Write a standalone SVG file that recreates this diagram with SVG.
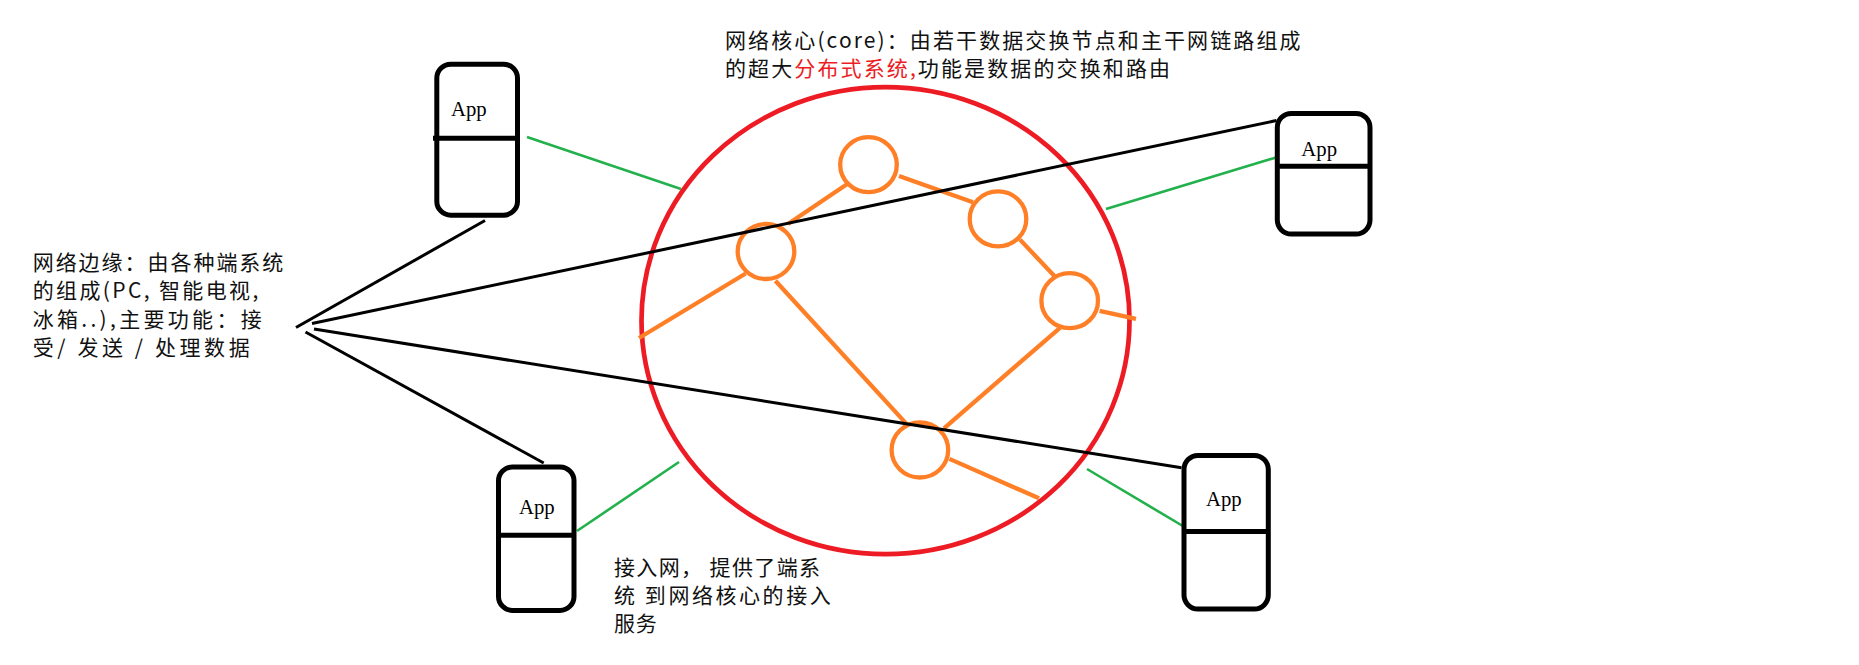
<svg xmlns="http://www.w3.org/2000/svg" width="1859" height="665" viewBox="0 0 1859 665">
<style>
.box{fill:none;stroke:#000;stroke-width:5;}
.div{stroke:#000;stroke-width:5;}
.app{font-family:"Liberation Serif",serif;font-size:21px;fill:#000;}
.txt{font-family:"Noto Sans CJK SC","Noto Sans",sans-serif;font-size:21px;fill:#111;}
.red{fill:#ED1C24;}
.blk{stroke:#000;stroke-width:3;fill:none;}
.grn{stroke:#22B14C;stroke-width:2.6;fill:none;}
.org{stroke:#FF7F27;stroke-width:4.3;fill:none;}
.core{fill:none;stroke:#ED1C24;stroke-width:4.7;}
</style>
<rect width="1859" height="665" fill="#fff"/>

<g id="connectors">
  <line class="grn" x1="527" y1="137" x2="681" y2="189"/>
  <line class="grn" x1="1106" y1="209" x2="1277.5" y2="157"/>
  <line class="grn" x1="577" y1="531" x2="679" y2="462"/>
  <line class="grn" x1="1087" y1="469" x2="1184.5" y2="527"/>
</g>

<g id="core">
  <ellipse class="core" cx="885.5" cy="320.6" rx="244" ry="233.5"/>
  <g id="core-links">
    <line class="org" x1="848" y1="183.5" x2="788" y2="224"/>
    <line class="org" x1="899" y1="176" x2="973" y2="202.3"/>
    <line class="org" x1="1020" y1="239.6" x2="1056" y2="277.8"/>
    <line class="org" x1="1099.6" y1="310.9" x2="1136" y2="318.9"/>
    <line class="org" x1="1060" y1="327.8" x2="944" y2="428.3"/>
    <line class="org" x1="745.7" y1="273.5" x2="639" y2="338"/>
    <line class="org" x1="775.4" y1="280.8" x2="906.7" y2="424.1"/>
    <line class="org" x1="949.4" y1="458.9" x2="1039" y2="498.3"/>
  </g>
  <g id="router1"><ellipse class="org" cx="868.5" cy="164.7" rx="28.3" ry="27.5"/></g>
  <g id="router2"><ellipse class="org" cx="998" cy="218.9" rx="28.3" ry="27.5"/></g>
  <g id="router3"><ellipse class="org" cx="766" cy="251.5" rx="28.3" ry="27.5"/></g>
  <g id="router4"><ellipse class="org" cx="1069.7" cy="300.7" rx="28.3" ry="27.5"/></g>
  <g id="router5"><ellipse class="org" cx="919.9" cy="450" rx="28.3" ry="27.5"/></g>
</g>

<g id="edge-connectors">
  <line class="blk" x1="296" y1="327.5" x2="485" y2="220.5"/>
  <line class="blk" x1="312" y1="323.5" x2="1276.5" y2="120.5"/>
  <line class="blk" x1="314" y1="329" x2="1181.5" y2="467.8"/>
  <line class="blk" x1="305.5" y1="332" x2="543.7" y2="463"/>
</g>

<g id="host-top-left">
  <rect class="box" x="436.8" y="64.2" width="80.7" height="151" rx="14"/>
  <line class="div" x1="433" y1="138.3" x2="517" y2="138.3"/>
  <text class="app" x="451" y="116" textLength="35.7" lengthAdjust="spacingAndGlyphs">App</text>
</g>
<g id="host-bottom-left">
  <rect class="box" x="498.5" y="467" width="75.5" height="143.4" rx="14"/>
  <line class="div" x1="499" y1="535.2" x2="572" y2="535.2"/>
  <text class="app" x="519" y="514" textLength="35.7" lengthAdjust="spacingAndGlyphs">App</text>
</g>
<g id="host-top-right">
  <rect class="box" x="1277.3" y="113.5" width="92.7" height="120.6" rx="14"/>
  <line class="div" x1="1277" y1="166.2" x2="1370" y2="166.2"/>
  <text class="app" x="1301.3" y="156" textLength="35.7" lengthAdjust="spacingAndGlyphs">App</text>
</g>
<g id="host-bottom-right">
  <rect class="box" x="1184" y="455.5" width="84.3" height="153.5" rx="14"/>
  <line class="div" x1="1184" y1="531.4" x2="1268" y2="531.4"/>
  <text class="app" x="1206" y="505.5" textLength="35.7" lengthAdjust="spacingAndGlyphs">App</text>
</g>

<g id="label-edge">
  <text class="txt" x="32.7" y="269.5" textLength="250.6" lengthAdjust="spacing">网络边缘：由各种端系统</text>
  <text class="txt" x="32.7" y="298" textLength="225.6" lengthAdjust="spacing">的组成(PC, 智能电视,</text>
  <text class="txt" x="32.7" y="326.5" textLength="229" lengthAdjust="spacing">冰箱..),主要功能：接</text>
  <text class="txt" x="32.7" y="355" textLength="217" lengthAdjust="spacing">受/ 发送 / 处理数据</text>
</g>

<g id="label-core">
  <text class="txt" x="725" y="47.5" textLength="575.5" lengthAdjust="spacing">网络核心(core)：由若干数据交换节点和主干网链路组成</text>
  <text class="txt" x="725" y="75.5" textLength="445" lengthAdjust="spacing">的超大<tspan class="red">分布式系统,</tspan>功能是数据的交换和路由</text>
</g>

<g id="label-access">
  <text class="txt" x="614" y="575" textLength="206" lengthAdjust="spacing">接入网， 提供了端系</text>
  <text class="txt" x="614" y="602.5" textLength="216.7" lengthAdjust="spacing">统 到网络核心的接入</text>
  <text class="txt" x="614" y="631" textLength="42.7" lengthAdjust="spacing">服务</text>
</g>
</svg>
